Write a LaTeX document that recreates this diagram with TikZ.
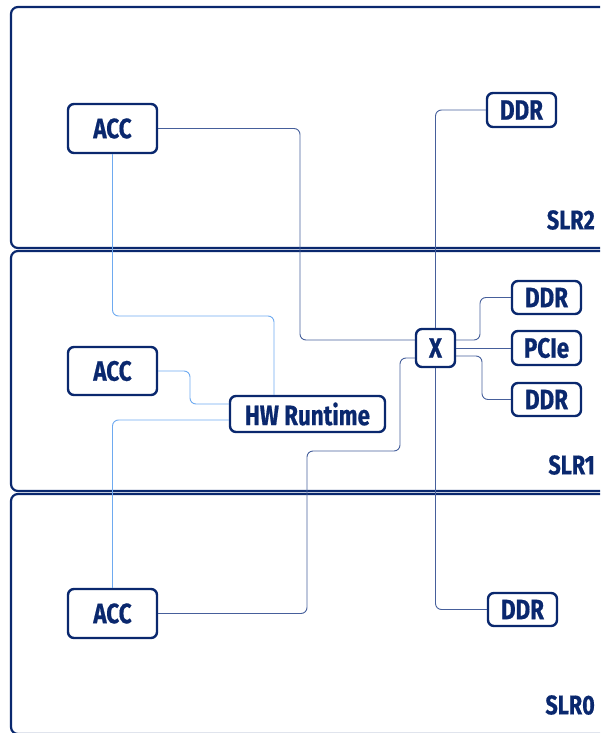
\documentclass[tikz,border=0pt]{standalone}
\usepackage{fontspec}
\setmainfont{Fira Sans}[FakeStretch=0.8, BoldFeatures={FakeBold=0.6}]
\usetikzlibrary{calc}
\definecolor{navy}{RGB}{10,40,110}
\definecolor{wire}{RGB}{70,95,155}
\definecolor{lblue}{RGB}{110,170,240}
\tikzset{
  box/.style={draw=navy, line width=2.4pt, rounded corners=6pt, fill=white, text=navy,
    font=\fontsize{28}{28}\selectfont\bfseries, inner sep=0pt},
  region/.style={draw=navy, line width=2.2pt, rounded corners=7pt},
  dk/.style={draw=wire, line width=0.9pt, rounded corners=6pt},
  lb/.style={draw=lblue, line width=0.9pt, rounded corners=6pt},
  slr/.style={text=navy, font=\fontsize{27}{27}\selectfont\bfseries, anchor=east, inner sep=0pt}
}
\begin{document}
\begin{tikzpicture}[x=1pt,y=-1pt]
\clip (0,0) rectangle (600,733);
% regions
\draw[region] (11,7) rectangle (640,248);
\draw[region] (11,251) rectangle (640,491);
\draw[region] (11,494) rectangle (640,734);
\node[slr] (l2) at (595,220) {SLR2};
\node[slr] (l1) at (595,465) {SLR1};
\node[slr] (l0) at (595,705) {SLR0};
% nodes
\node[box, minimum width=89pt, minimum height=49pt] (acc2) at (112.5,128.5) {ACC};
\node[box, minimum width=89pt, minimum height=48pt] (acc1) at (112.5,371) {ACC};
\node[box, minimum width=89pt, minimum height=49pt] (acc0) at (112.5,613.5) {ACC};
\node[box, minimum width=155pt, minimum height=36pt] (hw) at (307.5,414) {HW Runtime};
\node[box, minimum width=39pt, minimum height=38pt] (x) at (435.5,348) {X};
\node[box, minimum width=69pt, minimum height=34pt] (ddr2) at (521.5,110) {DDR};
\node[box, minimum width=69pt, minimum height=33pt] (ddr1a) at (546.5,297.5) {DDR};
\node[box, minimum width=69pt, minimum height=34pt] (pcie) at (546.5,348) {PCIe};
\node[box, minimum width=69pt, minimum height=33pt] (ddr1b) at (546.5,399.5) {DDR};
\node[box, minimum width=69pt, minimum height=33pt] (ddr0) at (522.5,609.5) {DDR};
% wires
\draw[dk] (acc2.east) -- (300,128.5) -- (300,340) -- ([yshift=8pt]x.west);
\draw[lb] (acc2.south) -- (112.5,316) -- (274,316) -- ([xshift=-33.5pt]hw.north);
\draw[lb] (acc1.east) -- (190,371) -- (190,404) -- ([yshift=10pt]hw.west);
\draw[lb] ([yshift=-6pt]hw.west) -- (112.5,420) -- (acc0.north);
\draw[dk] (acc0.east) -- (307,613.5) -- (307,451) -- (400,451) -- (400,358) -- ([yshift=-10pt]x.west);
\draw[dk] (x.north) -- (435.5,110) -- (ddr2.west);
\draw[dk] (x.south) -- (435.5,609.5) -- (ddr0.west);
\draw[dk] ([yshift=8pt]x.east) -- (480,340) -- (480,297.5) -- (ddr1a.west);
\draw[dk] (x.east) -- (pcie.west);
\draw[dk] ([yshift=-8pt]x.east) -- (482,356) -- (482,399.5) -- (ddr1b.west);
\end{tikzpicture}
\end{document}
